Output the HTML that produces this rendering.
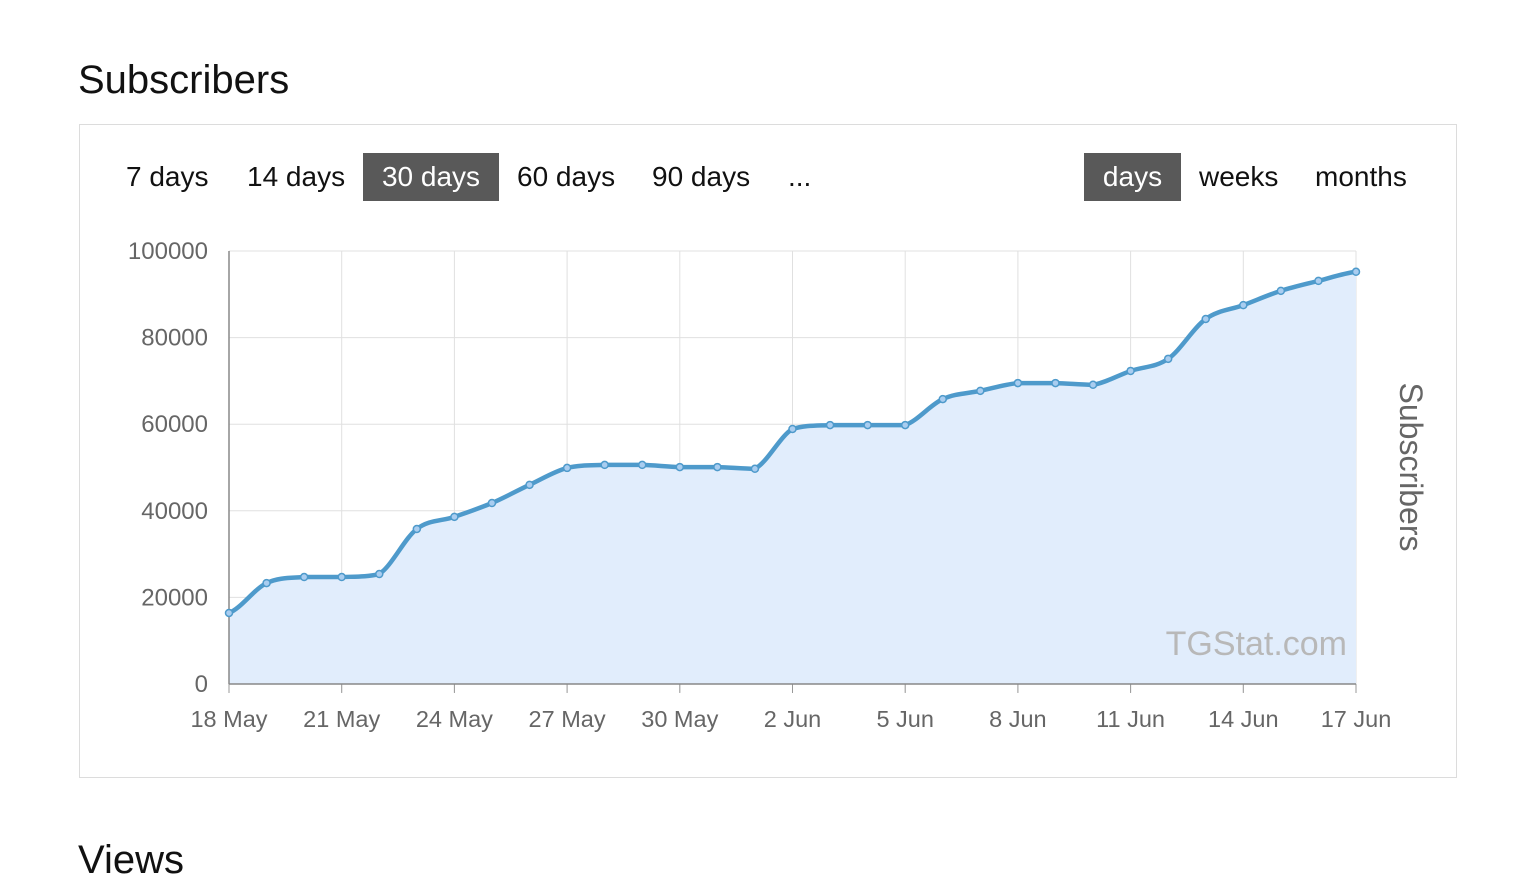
<!DOCTYPE html>
<html><head><meta charset="utf-8">
<style>
html,body{margin:0;padding:0;width:1536px;height:845px;overflow:hidden;background:#fff;font-family:"Liberation Sans",Arial,sans-serif;}
#title{position:absolute;left:78px;top:58px;font-size:40px;color:#111;margin:0;font-weight:normal;}
#box{position:absolute;left:79px;top:124px;width:1376px;height:652px;border:1px solid #dcdcdc;}
.btn{position:absolute;top:153px;height:48px;line-height:48px;font-size:28px;color:#111;padding:0 18px;}
.btn.active{background:#595959;color:#fff;}
#views{position:absolute;left:78px;top:838px;font-size:40px;color:#111;}
</style></head><body>
<h2 id="title">Subscribers</h2>
<div id="box"></div>
<div class="btn" style="left:108px">7 days</div>
<div class="btn" style="left:229px">14 days</div>
<div class="btn active" style="left:363px;width:100px;text-align:center">30 days</div>
<div class="btn" style="left:499px">60 days</div>
<div class="btn" style="left:634px">90 days</div>
<div class="btn" style="left:770px">...</div>
<div class="btn active" style="left:1084px;width:61px;text-align:center">days</div>
<div class="btn" style="left:1181px">weeks</div>
<div class="btn" style="left:1297px">months</div>
<svg id="chart" width="1536" height="845" style="position:absolute;left:0;top:0"></svg>
<script>
const values=[16400,23300,24700,24700,25400,35800,38600,41800,46000,49900,50600,50600,50100,50100,49700,58900,59800,59800,59800,65800,67700,69500,69500,69100,72300,75100,84300,87500,90800,93100,95200];
const xLabels=["18 May","21 May","24 May","27 May","30 May","2 Jun","5 Jun","8 Jun","11 Jun","14 Jun","17 Jun"];
const yTicks=[0,20000,40000,60000,80000,100000];
const NS="http://www.w3.org/2000/svg";
const svg=document.getElementById('chart');
const x0=229,x1=1356,y0=684,y1=251;
const X=i=>x0+(x1-x0)*i/(values.length-1);
const Y=v=>y0-(y0-y1)*v/100000;
function mk(t,a,txt){const e=document.createElementNS(NS,t);for(const k in a)e.setAttribute(k,a[k]);if(txt!=null)e.textContent=txt;svg.appendChild(e);return e;}
yTicks.forEach(v=>{
  const l=mk('line',{x1:x0,x2:x1,y1:Y(v),y2:Y(v),stroke:'#e0e0e0','stroke-width':1});
  
  
  const t=mk('text',{x:208,y:Y(v)+8,'text-anchor':'end','font-size':24,fill:'#666','font-family':'Liberation Sans, sans-serif'},String(v));
  
  
});
xLabels.forEach((s,k)=>{
  const x=X(k*3);
  const g=mk('line',{x1:x,x2:x,y1:y1,y2:y0+8,stroke:'#e0e0e0','stroke-width':1});
  
  
  const tk=mk('line',{x1:x,x2:x,y1:y0,y2:y0+9,stroke:'#999','stroke-width':1});
  
  
  const t=mk('text',{x:x,y:727,'text-anchor':'middle','font-size':23.5,fill:'#666','font-family':'Liberation Sans, sans-serif'},s);
  
  
});
const P=values.map((v,i)=>[X(i),Y(v)]);
let d=`M${P[0][0]},${P[0][1]}`;
for(let i=0;i<P.length-1;i++){
  const p0=P[Math.max(0,i-1)],p1=P[i],p2=P[i+1],p3=P[Math.min(P.length-1,i+2)];
  let c1y=p1[1]+(p2[1]-p0[1])/6, c2y=p2[1]-(p3[1]-p1[1])/6;
  const lo=Math.min(p1[1],p2[1]),hi=Math.max(p1[1],p2[1]);
  c1y=Math.min(hi,Math.max(lo,c1y));c2y=Math.min(hi,Math.max(lo,c2y));
  const c1x=p1[0]+(p2[0]-p1[0])/3,c2x=p2[0]-(p2[0]-p1[0])/3;
  d+=` C${c1x},${c1y} ${c2x},${c2y} ${p2[0]},${p2[1]}`;
}
const area=mk('path',{d:d+` L${x1},${y0} L${x0},${y0} Z`,fill:'#e1edfc'});


const wm=mk('text',{x:1347,y:655,'text-anchor':'end','font-size':34,fill:'#b8b8b8','font-family':'Liberation Sans, sans-serif'},'TGStat.com');


const ax=mk('line',{x1:x0,x2:x0,y1:y1,y2:y0,stroke:'#888','stroke-width':1.5});


const bx=mk('line',{x1:x0,x2:x1,y1:y0,y2:y0,stroke:'#888','stroke-width':1.5});


const line=mk('path',{d:d,fill:'none',stroke:'#4e9acb','stroke-width':4.5,'stroke-linejoin':'round'});


P.forEach(p=>{
  const c=mk('circle',{cx:p[0],cy:p[1],r:3.5,fill:'#a9cdf0',stroke:'#4e9acb','stroke-width':1.5});
  
  
});
const yt=mk('text',{x:0,y:0,transform:'translate(1400,467) rotate(90)','text-anchor':'middle','font-size':32,fill:'#666','font-family':'Liberation Sans, sans-serif'},'Subscribers');


</script>
<div id="views">Views</div>
</body></html>
